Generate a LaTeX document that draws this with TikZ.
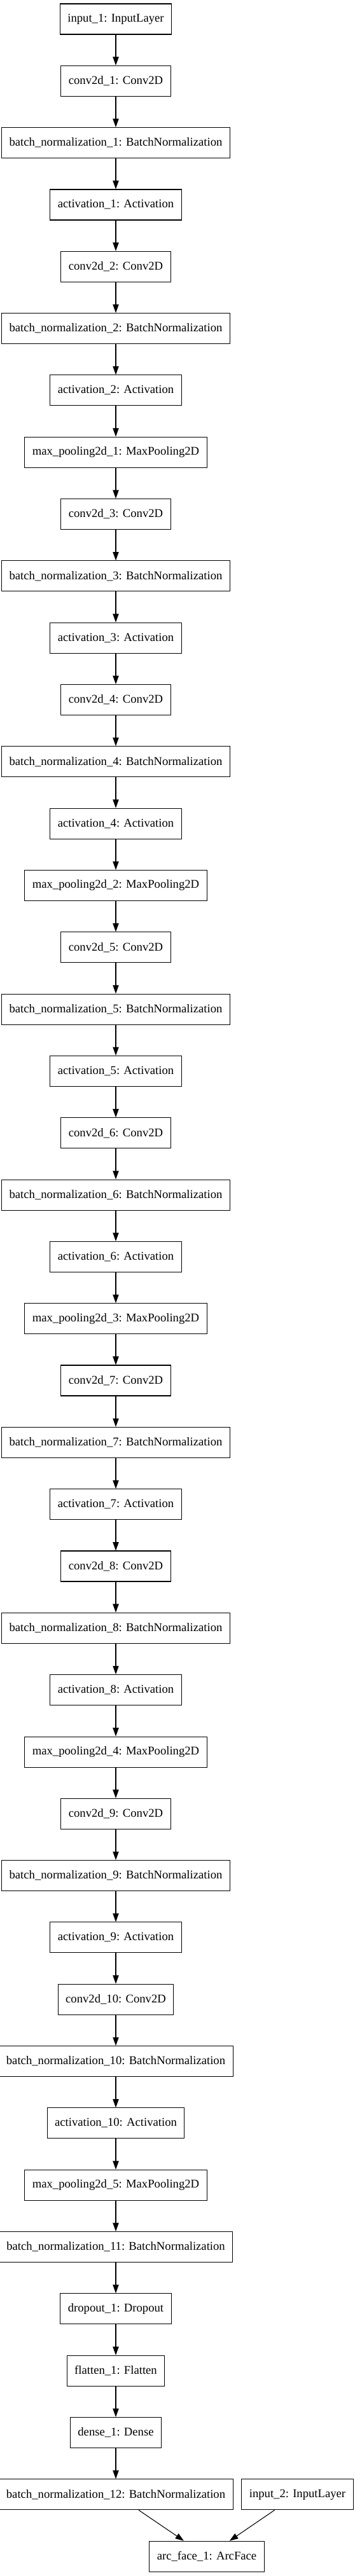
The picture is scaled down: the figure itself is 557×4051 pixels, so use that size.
\documentclass[tikz,border=0pt]{standalone}
\usepackage{fontspec}
\setmainfont{Liberation Serif}
\usepackage{tikz}
\usetikzlibrary{arrows.meta}

\begin{document}
\begin{tikzpicture}
[x=0.75pt, y=-0.75pt, line width=0.8pt, >={Triangle[length=10pt,width=7pt]},
 every node/.style={draw, rectangle, minimum height=36pt, inner xsep=9pt, inner ysep=0pt,
   font=\fontsize{14pt}{17pt}\selectfont}]
\useasboundingbox (0,0) rectangle (557,4051);

\node (in1) at (182,30) {input\_1: InputLayer};
\node (conv1) at (182,127.3) {conv2d\_1: Conv2D};
\node (bn1) at (182,224.6) {batch\_normalization\_1: BatchNormalization};
\node (act1) at (182,322.0) {activation\_1: Activation};
\node (conv2) at (182,419.3) {conv2d\_2: Conv2D};
\node (bn2) at (182,516.6) {batch\_normalization\_2: BatchNormalization};
\node (act2) at (182,613.9) {activation\_2: Activation};
\node (mp1) at (182,711.2) {max\_pooling2d\_1: MaxPooling2D};
\node (conv3) at (182,808.6) {conv2d\_3: Conv2D};
\node (bn3) at (182,905.9) {batch\_normalization\_3: BatchNormalization};
\node (act3) at (182,1003.2) {activation\_3: Activation};
\node (conv4) at (182,1100.5) {conv2d\_4: Conv2D};
\node (bn4) at (182,1197.8) {batch\_normalization\_4: BatchNormalization};
\node (act4) at (182,1295.2) {activation\_4: Activation};
\node (mp2) at (182,1392.5) {max\_pooling2d\_2: MaxPooling2D};
\node (conv5) at (182,1489.8) {conv2d\_5: Conv2D};
\node (bn5) at (182,1587.1) {batch\_normalization\_5: BatchNormalization};
\node (act5) at (182,1684.4) {activation\_5: Activation};
\node (conv6) at (182,1781.8) {conv2d\_6: Conv2D};
\node (bn6) at (182,1879.1) {batch\_normalization\_6: BatchNormalization};
\node (act6) at (182,1976.4) {activation\_6: Activation};
\node (mp3) at (182,2073.7) {max\_pooling2d\_3: MaxPooling2D};
\node (conv7) at (182,2171.0) {conv2d\_7: Conv2D};
\node (bn7) at (182,2268.4) {batch\_normalization\_7: BatchNormalization};
\node (act7) at (182,2365.7) {activation\_7: Activation};
\node (conv8) at (182,2463.0) {conv2d\_8: Conv2D};
\node (bn8) at (182,2560.3) {batch\_normalization\_8: BatchNormalization};
\node (act8) at (182,2657.6) {activation\_8: Activation};
\node (mp4) at (182,2755.0) {max\_pooling2d\_4: MaxPooling2D};
\node (conv9) at (182,2852.3) {conv2d\_9: Conv2D};
\node (bn9) at (182,2949.6) {batch\_normalization\_9: BatchNormalization};
\node (act9) at (182,3046.9) {activation\_9: Activation};
\node (conv10) at (182,3144.2) {conv2d\_10: Conv2D};
\node (bn10) at (182,3241.6) {batch\_normalization\_10: BatchNormalization};
\node (act10) at (182,3338.9) {activation\_10: Activation};
\node (mp5) at (182,3436.2) {max\_pooling2d\_5: MaxPooling2D};
\node (bn11) at (182,3533.5) {batch\_normalization\_11: BatchNormalization};
\node (drop1) at (182,3630.8) {dropout\_1: Dropout};
\node (flat1) at (182,3728.2) {flatten\_1: Flatten};
\node (dense1) at (182,3825.5) {dense\_1: Dense};
\node (bn12) at (182,3922.8) {batch\_normalization\_12: BatchNormalization};
\node (in2) at (467.5,3922.8) {input\_2: InputLayer};
\node (arc1) at (325,4020.1) {arc\_face\_1: ArcFace};

\foreach \from/\to in {in1/conv1,conv1/bn1,bn1/act1,act1/conv2,conv2/bn2,bn2/act2,act2/mp1,
	mp1/conv3,conv3/bn3,bn3/act3,act3/conv4,conv4/bn4,bn4/act4,act4/mp2,
	mp2/conv5,conv5/bn5,bn5/act5,act5/conv6,conv6/bn6,bn6/act6,act6/mp3,
	mp3/conv7,conv7/bn7,bn7/act7,act7/conv8,conv8/bn8,bn8/act8,act8/mp4,
	mp4/conv9,conv9/bn9,bn9/act9,act9/conv10,conv10/bn10,bn10/act10,act10/mp5,
	mp5/bn11,bn11/drop1,drop1/flat1,flat1/dense1,dense1/bn12,bn12/arc1,in2/arc1}
	\draw[->] (\from) -- (\to);

\end{tikzpicture}
\end{document}
